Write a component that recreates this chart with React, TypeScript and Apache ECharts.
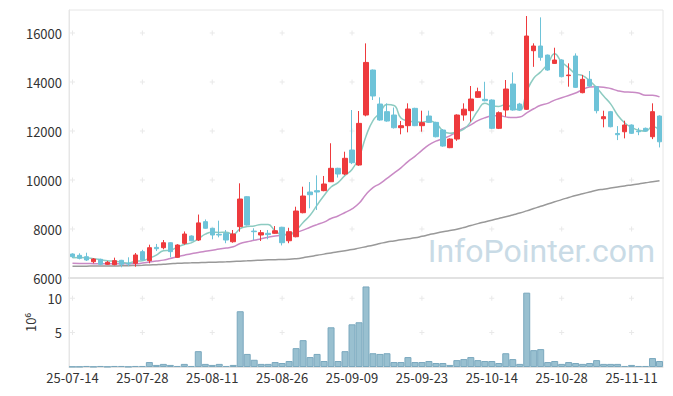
import React, { useEffect, useRef } from "react";
import * as echarts from "echarts";

const dates = [
  "25-07-14","25-07-15","25-07-16","25-07-17","25-07-18","25-07-21","25-07-22","25-07-23","25-07-24","25-07-25",
  "25-07-28","25-07-29","25-07-30","25-07-31","25-08-01","25-08-04","25-08-05","25-08-06","25-08-07","25-08-08",
  "25-08-11","25-08-12","25-08-13","25-08-14","25-08-18","25-08-19","25-08-20","25-08-21","25-08-22","25-08-25",
  "25-08-26","25-08-27","25-08-28","25-08-29","25-09-01","25-09-02","25-09-03","25-09-04","25-09-05","25-09-08",
  "25-09-09","25-09-10","25-09-11","25-09-12","25-09-15","25-09-16","25-09-17","25-09-18","25-09-19","25-09-22",
  "25-09-23","25-09-24","25-09-25","25-09-26","25-09-29","25-09-30","25-10-01","25-10-02","25-10-10","25-10-13",
  "25-10-14","25-10-15","25-10-16","25-10-17","25-10-20","25-10-21","25-10-22","25-10-23","25-10-24","25-10-27",
  "25-10-28","25-10-29","25-10-30","25-10-31","25-11-03","25-11-04","25-11-05","25-11-06","25-11-07","25-11-10",
  "25-11-11","25-11-12","25-11-13","25-11-14","25-11-17"
];

const opens = [
  6980,6926,6869,6665,6763,6559,6545,6722,6600,6600,
  7075,6708,7250,7237,7440,6845,7415,7714,7550,8300,
  8030,7780,7824,7480,8095,9318,7915,7755,7824,7824,
  8070,7520,7685,8665,9510,9565,9565,9930,10478,10245,
  11224,10612,12653,14490,13102,12790,12653,12135,12218,12925,
  12218,12612,12353,12040,11320,11673,12653,12830,13375,13293,
  13265,12110,12857,13918,13102,12885,15278,15470,15100,14760,
  14900,14260,15061,13565,14110,13810,12500,12790,11900,11970,
  12245,12000,12110,11767,12612
];
const closes = [
  6869,6804,6735,6776,6559,6640,6708,6559,6570,6940,
  6735,7237,7195,7440,7075,7347,7796,7520,8250,8030,
  7755,7755,7550,7796,9224,8163,7890,7850,7770,7930,
  7440,7890,8735,9347,9400,9510,9837,10478,10245,10886,
  10706,12312,14800,13430,12449,12408,12135,12218,12898,12218,
  12340,12353,11767,11387,11673,12653,12890,13306,13606,13237,
  12110,12748,13714,12857,12857,15878,15470,15008,14490,14898,
  14218,14285,13782,14110,13837,12830,12585,12175,11850,12245,
  11906,11970,12000,12790,11560
];
const lows = [
  6816,6760,6694,6600,6518,6545,6518,6437,6490,6461,
  6720,6600,7100,7170,6845,6830,7360,7500,7510,8010,
  7580,7660,7420,7440,7890,8140,7550,7510,7580,7800,
  7330,7420,7660,8640,8845,8775,9540,9918,10100,10200,
  10650,10580,12600,13265,12420,12380,12100,11865,11946,12200,
  11973,12330,11740,11360,11300,11600,12421,12380,13350,13210,
  12080,12080,12585,12830,12830,12860,14620,14870,14460,14740,
  14190,13810,13760,13540,13800,12720,12150,12150,11630,11700,
  11880,11830,11980,11670,11330
];
const highs = [
  7008,7008,7032,6816,6790,6694,6830,6740,6845,7020,
  7150,7360,7390,7550,7460,7380,7900,7740,8590,8390,
  8050,8340,7960,7960,9865,9340,8030,7960,7960,8120,
  8090,8050,8910,9727,9918,10190,10165,11500,10500,11155,
  12857,12816,15578,14510,13375,13130,12960,12408,13130,12950,
  12830,12830,12380,12080,11700,12680,13130,13837,13770,14010,
  13290,12800,14082,14395,13150,16694,15580,16640,15120,15400,
  14930,14763,15170,14290,14449,13840,12830,12820,12200,12420,
  12270,12130,12140,13130,12640
];
// volume in units of 10^6
const volumes = [
  0.05,0.05,0.15,0.05,0.15,0.05,0.15,0.15,0.05,0.15,
  0.15,0.72,0.3,0.45,0.3,0.15,0.45,0.15,2.3,0.45,
  0.3,0.45,0.15,0.3,8.1,1.9,1.05,0.45,0.45,0.72,
  0.58,0.87,2.74,3.9,1.44,1.9,0.87,5.77,0.87,2.3,
  6.2,6.5,11.7,2.0,1.9,2.0,0.72,0.72,1.44,0.72,
  0.72,0.87,0.58,0.58,0.3,1.0,1.15,1.44,1.0,0.87,
  0.87,0.58,2.0,1.15,0.45,10.8,2.45,2.6,0.72,0.87,
  0.45,0.72,0.58,0.45,0.58,1.0,0.45,0.45,0.45,0.15,
  0.3,0.15,0.15,1.3,0.87
];
// moving-average values before enough visible history
const ma5Early = [6830, 6840, 6830, 6790];
const ma20Early = [6600,6595,6590,6585,6580,6580,6580,6580,6580,6580,6610,6650,6690,6730,6800,6870,6930,6990,7040];
// long moving average
const maLong = [
  6480,6482,6484,6486,6488,6490,6493,6496,6500,6510,
  6520,6532,6545,6560,6580,6600,6610,6618,6626,6634,
  6642,6650,6660,6672,6686,6700,6715,6728,6740,6750,
  6758,6765,6790,6830,6880,6925,6975,7025,7070,7115,
  7160,7220,7280,7340,7405,7470,7515,7560,7600,7640,
  7700,7765,7830,7885,7940,7990,8065,8140,8220,8290,
  8360,8430,8500,8575,8650,8740,8835,8930,9020,9110,
  9200,9285,9370,9440,9510,9580,9625,9670,9715,9760,
  9800,9840,9885,9930,9970
];
const priceTicks = [8000, 10000, 12000, 14000, 16000];
const volTicks = [5, 10];
const labelEvery = 10;

const UP = "#ee3a3d";
const DOWN = "#6ec3d8";
const FONT = "'Noto Sans CJK KR', 'Noto Sans', sans-serif";

function movingAvg(n: number, early: number[]) {
  return closes.map((_, i) => {
    if (i < n - 1) return early[i];
    let s = 0;
    for (let k = i - n + 1; k <= i; k++) s += closes[k];
    return Math.round(s / n);
  });
}

export default function App() {
  const ref = useRef<HTMLDivElement>(null);
  useEffect(() => {
    if (!ref.current) return;
    const chart = echarts.init(ref.current, null, { renderer: "svg" });
    const ohlc = dates.map((_, i) => [opens[i], closes[i], lows[i], highs[i]]);
    const ma5 = movingAvg(5, ma5Early);
    const ma20 = movingAvg(20, ma20Early);
    const crossIdx = dates.map((_, i) => i).filter((i) => i % labelEvery === 0);
    const crossMain: number[][] = [];
    crossIdx.forEach((i) => priceTicks.forEach((v) => crossMain.push([i, v])));
    const crossVol: number[][] = [];
    crossIdx.forEach((i) => volTicks.forEach((v) => crossVol.push([i, v])));
    const crossSymbol = "path://M2,0H3V2H5V3H3V5H2V3H0V2H2Z";

    chart.setOption({
      animation: false,
      textStyle: { fontFamily: FONT },
      grid: [
        { left: 69, width: 594, top: 10, height: 268, show: true, borderColor: "#e6e6e6", borderWidth: 1 },
        { left: 69, width: 594, top: 278, height: 89, show: true, borderColor: "#e6e6e6", borderWidth: 1 },
      ],
      xAxis: [
        {
          type: "category", gridIndex: 0, data: dates, boundaryGap: true,
          axisLabel: { show: false }, axisTick: { show: false },
          axisLine: { lineStyle: { color: "#e2e2e2", width: 2 } },
          splitLine: { show: false },
        },
        {
          type: "category", gridIndex: 1, data: dates, boundaryGap: true,
          axisLabel: { interval: labelEvery - 1, color: "#333", fontSize: 13, margin: 4, fontFamily: FONT },
          axisTick: { show: false },
          axisLine: { lineStyle: { color: "#e2e2e2" } },
          splitLine: { show: false },
        },
      ],
      yAxis: [
        {
          type: "value", gridIndex: 0, min: 6000, max: 16940, interval: 2000,
          axisLabel: {
            color: "#333", fontSize: 13, margin: 7, fontFamily: FONT,
            formatter: (v: number) => (v % 2000 === 0 ? String(v) : ""),
          },
          axisLine: { show: true, lineStyle: { color: "#e6e6e6" } },
          axisTick: { show: false },
          splitLine: { show: false },
        },
        {
          type: "value", gridIndex: 1, min: 0, max: 12.93, interval: 5,
          name: "10⁶", nameLocation: "middle", nameRotate: 90, nameGap: 27,
          nameTextStyle: { color: "#333", fontSize: 13, fontFamily: FONT },
          axisLabel: {
            color: "#333", fontSize: 13, margin: 7, fontFamily: FONT,
            formatter: (v: number) => (v === 5 || v === 10 ? String(v) : ""),
          },
          axisLine: { show: true, lineStyle: { color: "#e6e6e6" } },
          axisTick: { show: false },
          splitLine: { show: false },
        },
      ],
      graphic: [
        {
          type: "text", right: 18, top: 235, z: 0, silent: true,
          style: { text: "InfoPointer.com", fontSize: 32, fontFamily: "Roboto, 'Noto Sans', sans-serif", fill: "#c9dbe6" },
        },
      ],
      series: [
        {
          type: "scatter", xAxisIndex: 0, yAxisIndex: 0, data: crossMain, symbol: crossSymbol,
          symbolSize: 5, itemStyle: { color: "#e4e4e4" }, silent: true, z: 1,
        },
        {
          type: "scatter", xAxisIndex: 1, yAxisIndex: 1, data: crossVol, symbol: crossSymbol,
          symbolSize: 5, itemStyle: { color: "#e4e4e4" }, silent: true, z: 1,
        },
        {
          type: "line", xAxisIndex: 0, yAxisIndex: 0, data: maLong, symbol: "none", smooth: true,
          lineStyle: { color: "#999999", width: 1.5 }, z: 3,
        },
        {
          type: "line", xAxisIndex: 0, yAxisIndex: 0, data: ma20, symbol: "none", smooth: true,
          lineStyle: { color: "#c98ac5", width: 1.5 }, z: 3,
        },
        {
          type: "line", xAxisIndex: 0, yAxisIndex: 0, data: ma5, symbol: "none", smooth: true,
          lineStyle: { color: "#8dcbc1", width: 1.5 }, z: 4,
        },
        {
          type: "candlestick", xAxisIndex: 0, yAxisIndex: 0, data: ohlc, barWidth: 5,
          itemStyle: { color: UP, color0: DOWN, borderColor: UP, borderColor0: DOWN, borderWidth: 1 },
          z: 5,
        },
        {
          type: "bar", xAxisIndex: 1, yAxisIndex: 1, data: volumes, barCategoryGap: "0%",
          itemStyle: { color: "#99c0d0", borderColor: "#7aa8be", borderWidth: 1 },
          z: 3,
        },
      ],
    });
    return () => chart.dispose();
  }, []);
  return (
    <div
      ref={ref}
      style={{ position: "fixed", left: 0, top: 0, width: 673, height: 396, background: "#fff" }}
    />
  );
}
